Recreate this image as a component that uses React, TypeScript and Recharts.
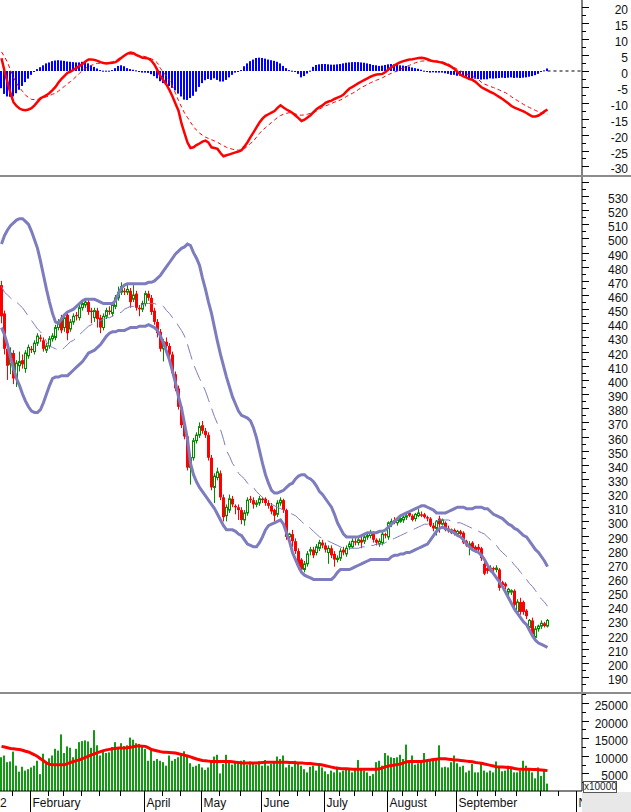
import React from "react";
import { ComposedChart, Bar, Line, XAxis, YAxis, ReferenceLine } from "recharts";

const W = 631;
const AXIS_W = 49;
const AXIS_X = W - AXIS_W;
const SLOTS = 194;
const FONT = '"Liberation Sans", Arial, sans-serif';

const RED = "#ff0000";
const GREEN = "#008c00";
const VOL_GREEN = "#129a12";
const BAND = "#7c7cbf";
const BLUE = "#0000ff";

// candles, one per trading day
const open = [
  467, 447, 422, 411, 419, 401, 410, 414, 408, 417,
  422, 420, 426, 430, 428, 421, 424, 429, 430, 437,
  444, 437, 446, 436, 441, 446, 444, 451, 453, 455,
  449, 444, 449, 444, 437, 445, 449, 447, 452, 458,
  462, 463, 462, 463, 457, 461, 451, 450, 454, 461,
  458, 449, 441, 434, 422, 427, 424, 418, 404, 394,
  381, 368, 360, 338, 345, 357, 361, 368, 364, 361,
  345, 324, 331, 334, 317, 304, 308, 316, 311, 310,
  308, 301, 306, 316, 315, 312, 313, 316, 316, 313,
  311, 308, 305, 313, 315, 308, 289, 291, 286, 279,
  273, 266, 270, 279, 280, 278, 281, 285, 283, 278,
  281, 277, 273, 274, 280, 277, 282, 282, 286, 285,
  287, 286, 289, 290, 292, 287, 284, 285, 291, 289,
  298, 301, 299, 300, 301, 303, 306, 304, 302, 304,
  305, 305, 303, 302, 297, 295, 302, 298, 299, 295,
  292, 294, 291, 293, 292, 286, 282, 285, 282, 282,
  281, 270, 267, 265, 267, 266, 266, 257, 256, 250,
  250, 251, 236, 243, 243, 237, 225, 230, 218, 224,
  226, 228, 226,
];
const high = [
  470, 449, 423, 423, 421, 414, 420, 418, 421, 425,
  424, 428, 433, 432, 430, 426, 431, 433, 439, 443,
  446, 446, 448, 443, 447, 448, 453, 456, 457, 457,
  451, 451, 451, 446, 447, 451, 452, 455, 460, 466,
  469, 465, 467, 465, 467, 463, 453, 456, 463, 463,
  460, 451, 443, 436, 429, 430, 426, 420, 406, 396,
  383, 370, 361, 347, 359, 363, 370, 371, 366, 363,
  347, 334, 338, 336, 319, 312, 319, 318, 312, 312,
  310, 308, 317, 318, 317, 315, 318, 317, 317, 315,
  313, 309, 315, 317, 316, 309, 292, 294, 288, 281,
  274, 272, 279, 282, 282, 284, 287, 287, 285, 283,
  283, 279, 276, 281, 282, 283, 286, 288, 288, 289,
  290, 291, 292, 294, 293, 288, 288, 293, 292, 300,
  302, 303, 302, 303, 304, 306, 308, 305, 306, 309,
  307, 306, 304, 303, 299, 301, 304, 302, 300, 297,
  295, 295, 294, 294, 293, 287, 286, 286, 283, 284,
  282, 272, 269, 269, 268, 269, 267, 258, 257, 253,
  252, 252, 245, 246, 244, 238, 231, 232, 226, 227,
  230, 229, 231,
];
const low = [
  440, 418, 400, 404, 397, 395, 406, 408, 405, 415,
  419, 418, 424, 427, 420, 419, 422, 427, 428, 435,
  433, 434, 428, 434, 439, 442, 442, 449, 451, 446,
  440, 441, 437, 433, 435, 443, 446, 445, 450, 456,
  460, 460, 460, 451, 455, 449, 445, 448, 452, 456,
  446, 439, 430, 420, 413, 422, 416, 403, 392, 379,
  366, 358, 336, 326, 343, 355, 359, 362, 359, 343,
  322, 313, 329, 315, 300, 300, 306, 310, 305, 301,
  298, 297, 304, 313, 309, 310, 311, 313, 311, 309,
  305, 300, 303, 311, 306, 287, 286, 282, 277, 266,
  264, 264, 268, 276, 274, 276, 279, 281, 278, 270,
  274, 268, 271, 272, 276, 275, 280, 281, 283, 283,
  281, 284, 287, 288, 285, 283, 282, 283, 288, 287,
  296, 298, 297, 299, 299, 301, 303, 300, 300, 303,
  303, 302, 300, 296, 293, 290, 292, 297, 293, 292,
  291, 290, 290, 290, 284, 282, 276, 280, 278, 278,
  272, 262, 263, 264, 264, 264, 251, 253, 252, 248,
  248, 239, 234, 234, 234, 231, 223, 218, 216, 222,
  224, 225, 225,
];
const close = [
  445, 422, 410, 419, 401, 412, 413, 411, 419, 423,
  421, 426, 431, 429, 422, 424, 429, 431, 437, 441,
  435, 444, 433, 441, 445, 445, 451, 454, 455, 448,
  448, 449, 443, 437, 445, 449, 448, 453, 458, 462,
  466, 462, 464, 455, 460, 451, 450, 454, 461, 458,
  448, 441, 433, 422, 427, 424, 418, 405, 394, 381,
  368, 360, 338, 345, 357, 361, 367, 364, 361, 345,
  324, 332, 335, 317, 303, 310, 316, 312, 310, 308,
  301, 306, 315, 315, 312, 313, 316, 315, 313, 311,
  307, 304, 313, 315, 308, 289, 291, 286, 279, 268,
  266, 270, 277, 280, 276, 282, 285, 283, 280, 281,
  276, 273, 274, 279, 278, 281, 284, 286, 285, 287,
  285, 289, 290, 292, 287, 285, 286, 291, 290, 299,
  300, 299, 301, 302, 303, 304, 304, 301, 305, 306,
  304, 303, 302, 297, 295, 300, 298, 301, 294, 293,
  294, 291, 293, 291, 285, 283, 284, 281, 279, 280,
  274, 263, 265, 267, 266, 267, 253, 255, 254, 252,
  251, 241, 243, 236, 236, 233, 230, 220, 224, 226,
  228, 226, 230,
];

// bollinger bands
const upper = [
  496, 502, 506, 509, 511, 513, 514, 514, 512, 510,
  505, 499, 493, 484, 474, 464, 455, 447, 441, 440,
  443, 446, 448, 449, 450, 452, 454, 456, 457, 457,
  457, 457, 456, 455, 454, 454, 454, 454, 456, 461,
  465, 467, 468, 468, 468, 468, 468, 468, 468, 469,
  469, 470, 472, 474, 477, 480, 483, 486, 489, 491,
  493, 494, 496, 495, 490, 486, 481, 472, 464, 455,
  447, 437, 427, 418, 410, 402, 395, 388, 383, 378,
  375, 374, 373, 371, 366, 359, 350, 341, 333, 327,
  322, 320, 320, 321, 322, 324, 326, 327, 330, 332,
  333, 333, 331, 330, 328, 325, 321, 319, 316, 313,
  310, 305, 299, 295, 291, 289, 289, 289, 289, 289,
  290, 291, 292, 292, 292, 292, 293, 293, 294, 296,
  298, 300, 302, 304, 305, 306, 307, 308, 309, 310,
  311, 311, 310, 309, 308, 306, 306, 306, 306, 307,
  308, 309, 310, 310, 310, 309, 309, 309, 310, 310,
  310, 309, 309, 307, 305, 304, 303, 302, 300, 298,
  297, 295, 294, 292, 290, 289, 286, 283, 280, 278,
  275, 272, 268,
];
const mid = [
  466, 462, 460, 458, 456, 455, 453, 451, 448, 445,
  442, 439, 436, 434, 431, 427, 424, 423, 422, 421,
  421, 423, 425, 427, 428, 430, 432, 434, 436, 438,
  439, 440, 441, 442, 443, 444, 444, 445, 446, 447,
  448, 450, 451, 452, 452, 453, 453, 453, 454, 454,
  454, 454, 453, 453, 452, 449, 447, 444, 442, 438,
  435, 431, 425, 418, 411, 406, 401, 397, 392, 386,
  380, 374, 369, 365, 358, 350, 346, 341, 338, 334,
  332, 330, 327, 325, 324, 321, 319, 317, 315, 314,
  312, 311, 310, 309, 308, 307, 306, 305, 304, 302,
  300, 298, 297, 295, 293, 291, 289, 288, 287, 286,
  285, 284, 283, 282, 281, 281, 281, 281, 281, 281,
  282, 282, 283, 283, 283, 284, 284, 284, 285, 286,
  287, 288, 289, 290, 291, 292, 293, 294, 295, 296,
  297, 298, 298, 299, 300, 300, 301, 301, 301, 301,
  300, 300, 299, 299, 298, 297, 296, 295, 294, 293,
  292, 291, 289, 287, 285, 283, 280, 278, 276, 274,
  272, 269, 267, 264, 262, 259, 256, 254, 251, 248,
  245, 243, 240,
];
const lower = [
  437, 432, 425, 416, 408, 401, 396, 390, 385, 381,
  378, 377, 377, 379, 384, 390, 396, 401, 402, 402,
  403, 403, 403, 405, 407, 409, 411, 413, 416, 419,
  420, 421, 423, 425, 428, 431, 433, 434, 434, 435,
  435, 435, 436, 437, 437, 437, 438, 438, 438, 439,
  438, 437, 435, 431, 426, 420, 414, 406, 398, 388,
  380, 369, 358, 341, 333, 328, 324, 321, 318, 315,
  312, 309, 305, 301, 297, 294, 294, 294, 293, 291,
  290, 287, 284, 283, 282, 282, 285, 289, 294, 297,
  298, 299, 300, 301, 298, 292, 286, 278, 273, 268,
  264, 262, 261, 260, 259, 259, 259, 259, 259, 259,
  259, 261, 264, 266, 266, 266, 266, 267, 268, 269,
  270, 271, 272, 273, 273, 273, 273, 273, 273, 273,
  275, 276, 276, 277, 277, 278, 278, 279, 280, 281,
  282, 283, 284, 287, 290, 293, 295, 296, 295, 294,
  293, 292, 290, 289, 287, 284, 282, 280, 279, 278,
  276, 273, 269, 266, 263, 260, 257, 254, 250, 246,
  242, 238, 235, 232, 229, 227, 223, 219, 216, 214,
  213, 212, 211,
];

// macd
const dif = [
  4, 0, -3.5, -7, -9.8, -11, -11.8, -12.2, -12.3, -12.1,
  -11.7, -10.8, -9.7, -8.6, -8.1, -7.6, -6.9, -6, -5, -3.6,
  -2.5, -1.5, -0.6, -0.2, 0.4, 1, 1.6, 2.2, 3, 3.6,
  3.6, 3.5, 3.2, 2.8, 2.5, 2.4, 2.5, 2.6, 2.8, 3.4,
  4.2, 4.9, 5.5, 5.8, 5.6, 5, 4.6, 4.2, 4.1, 3.9,
  3.2, 2, 0.2, -1.6, -3, -4.3, -6, -8, -10.3, -12.5,
  -16.5, -19.5, -22.5, -24.2, -24, -23.3, -22.8, -22.2, -21.9, -22.5,
  -24, -24.2, -24.5, -25.8, -26.8, -26.5, -26.2, -25.9, -25.6, -25.3,
  -24.9, -23.7, -22.4, -20.8, -19.3, -17.7, -16.2, -15, -14.1, -13.6,
  -13.1, -12.6, -11.6, -10.8, -11.5, -12.1, -12.6, -13.2, -14, -14.8,
  -15.7, -15.3, -14.6, -13.9, -12.9, -12, -11.3, -10.8, -10, -9.6,
  -9.3, -8.8, -8.4, -8, -7.4, -6.4, -5.5, -5, -4.4, -3.8,
  -3.3, -2.8, -2.3, -1.8, -1.4, -1.1, -1, -0.9, -0.3, 0.5,
  1.2, 1.8, 2.3, 2.8, 3.1, 3.4, 3.6, 3.7, 3.9, 4.1,
  4.2, 4, 3.7, 3.3, 3.1, 3, 2.8, 2.6, 2.2, 1.8,
  1.3, 0.6, -0.3, -1.2, -1.7, -2.1, -2.5, -2.8, -3.4, -4.3,
  -5.1, -5.6, -6.1, -6.6, -7, -7.6, -8.2, -8.8, -9.5, -10.2,
  -11, -11.5, -11.9, -12.3, -12.7, -13.2, -13.8, -14.3, -14.3, -14,
  -13.4, -12.7, -12.1,
];
const dea = [
  6, 4.5, 2.7, 0.3, -2, -3.8, -5.2, -6.4, -7.6, -8.3,
  -8.9, -9, -8.9, -8.8, -8.4, -8.1, -7.8, -7.3, -7, -6.3,
  -5.5, -4.8, -4, -3.3, -2.5, -1.6, -0.7, 0.2, 0.9, 1.3,
  1.8, 2.2, 2.4, 2.5, 2.5, 2.6, 2.7, 2.9, 3.3, 3.9,
  4.4, 4.8, 5.1, 5.3, 5.3, 5.1, 4.9, 4.7, 4.5, 4.2,
  3.8, 3.4, 2.5, 0.8, -0.5, -1.6, -3, -4.8, -7, -9.3,
  -11.3, -13.2, -14.6, -16.1, -17.5, -18.6, -19.5, -20.2, -20.8, -21.2,
  -21.6, -22, -22.4, -23, -23.5, -24, -24.3, -24.6, -24.8, -24.9,
  -24.9, -24.4, -23.6, -22.8, -22, -20.8, -19.6, -18.6, -17.8, -17,
  -16.2, -15.4, -14.6, -14, -13.6, -13.3, -13.1, -13.2, -13.5, -13.8,
  -13.9, -13.8, -13.6, -13.3, -13.1, -12.6, -12, -11.4, -11, -10.6,
  -10.2, -9.8, -9.5, -9.1, -8.6, -8, -7.5, -7, -6.5, -5.8,
  -5.2, -4.7, -4.2, -3.7, -3.3, -2.9, -2.5, -2.1, -1.6, -1.1,
  -0.7, -0.3, 0, 0.6, 1, 1.4, 1.8, 2.2, 2.6, 2.9,
  3.1, 3.2, 3.2, 3.2, 3.2, 3.1, 3, 2.8, 2.6, 2.2,
  1.6, 1.1, 0.5, 0, -0.4, -0.9, -1.3, -1.7, -2.2, -2.7,
  -3.6, -4.1, -4.5, -4.9, -5.2, -5.6, -6, -6.5, -6.8, -7.4,
  -8.1, -8.8, -9.3, -9.9, -10.5, -11, -11.5, -11.9, -12.4, -12.8,
  -13.2, -13.4, -13.6,
];
const hist = [
  -5.4, -7.2, -8, -8.1, -8, -7, -5.9, -4.7, -3.5, -2.4,
  -1.2, -0.2, 0.6, 1.2, 1.8, 2.4, 2.7, 3.1, 3.3, 3.4,
  3.3, 3.2, 3, 2.9, 2.8, 2.7, 2.7, 2.9, 2.8, 2.4,
  1.8, 1.3, 0.8, 0.3, 0.1, 0.1, 0.1, 0.3, 0.9, 1.6,
  1.8, 1.5, 0.9, 0.6, 0.4, 0.2, -0.2, -0.5, -0.5, -0.6,
  -1, -1.6, -2.3, -3.2, -3.8, -4.1, -4.7, -5.3, -6.1, -7.1,
  -8, -9, -9.1, -8.5, -7.8, -6.5, -5, -3.8, -2.9, -2.5,
  -2.8, -2.3, -2.8, -3.3, -3.3, -2.8, -2, -1.2, -0.5, -0.2,
  0.3, 1.5, 2.4, 3.1, 3.6, 4.1, 4.2, 4.1, 3.9, 3.6,
  3.4, 3.2, 2.9, 2.4, 1.6, 0.9, 0.3, 0.1, -0.2, -0.9,
  -2, -1.6, -0.8, 0.1, 1.3, 1.9, 2.1, 2.2, 2.2, 2.1,
  2, 2, 2.1, 2.2, 2.4, 2.6, 2.7, 2.8, 2.8, 2.8,
  2.7, 2.6, 2.4, 2.2, 1.9, 1.8, 1.6, 1.7, 1.9, 2.1,
  2.2, 2.1, 1.9, 1.8, 1.7, 1.6, 1.4, 1.1, 0.9, 0.7,
  0.4, 0.1, -0.2, -0.5, -0.4, -0.5, -0.5, -0.5, -0.7, -0.9,
  -1.2, -1.2, -1.5, -1.5, -1.7, -1.9, -2.2, -2.4, -2.4, -2.5,
  -2.7, -2.6, -2.6, -2.3, -2.4, -2.3, -2.2, -2.1, -2.2, -2.1,
  -2, -2.2, -2.1, -2.2, -2.1, -2, -1.8, -1.6, -1.3, -0.9,
  -0.3, 0.2, 0.8,
];

// volume
const volume = [
  9600, 10100, 8200, 8400, 11200, 7200, 5500, 6900, 5800, 6200,
  6700, 7200, 8600, 4800, 10600, 8200, 9300, 10100, 12000, 11500,
  16100, 10800, 12700, 12300, 9600, 12000, 13900, 14200, 14400, 14100,
  12300, 17300, 13000, 10100, 11500, 10800, 11000, 12500, 13900, 12500,
  13600, 12800, 13000, 15200, 14600, 13600, 13400, 12700, 12000, 8600,
  12000, 8600, 9100, 8600, 8200, 7200, 10100, 8600, 9100, 9600,
  10300, 11300, 9800, 7900, 6900, 7200, 7700, 6700, 6000, 6700,
  8200, 9800, 10300, 5000, 7700, 10300, 8600, 7500, 8200, 7900,
  8600, 8800, 7500, 8400, 7700, 7500, 8400, 7200, 8800, 7200,
  7700, 8200, 9800, 9100, 10100, 6700, 7500, 6900, 8600, 8200,
  7200, 6200, 5300, 6900, 7200, 5800, 7700, 6700, 5600, 4800,
  5800, 5300, 6900, 5300, 5800, 6000, 6200, 5300, 6000, 8800,
  6000, 5800, 5300, 4300, 4800, 8200, 8600, 7200, 10800, 10100,
  9600, 9400, 9600, 10300, 9100, 13200, 8600, 10100, 7500, 7900,
  8600, 10800, 8400, 9100, 8600, 8800, 13000, 6700, 6900, 6700,
  8200, 10100, 7900, 6900, 7200, 5300, 5800, 7700, 5300, 5300,
  8200, 5800, 5300, 5800, 5300, 8400, 6700, 5600, 5800, 7200,
  6700, 5300, 5300, 5800, 8600, 7200, 6000, 5300, 3600, 6700,
  4300, 5800, 2100,
];
const volMa = [
  12700, 12500, 12300, 12100, 12000, 11900, 11800, 11600, 11300, 11100,
  10700, 10300, 9800, 9200, 8600, 7950, 7600, 7500, 7500, 7500,
  7500, 7500, 7800, 8100, 8400, 8650, 8900, 9200, 9550, 9900,
  10300, 10600, 10900, 11200, 11500, 11700, 11850, 12000, 12100, 12200,
  12200, 12250, 12300, 12450, 12600, 12800, 12800, 12750, 12700, 12300,
  11800, 11600, 11400, 11200, 11050, 11000, 10950, 10900, 10800, 10600,
  10400, 10200, 9950, 9700, 9400, 9100, 8900, 8700, 8600, 8500,
  8400, 8400, 8400, 8400, 8400, 8400, 8400, 8300, 8200, 8100,
  8000, 8000, 8000, 8000, 8000, 8000, 8050, 8100, 8150, 8200,
  8200, 8200, 8200, 8200, 8150, 8150, 8100, 8100, 8050, 8000,
  8000, 7900, 7850, 7800, 7700, 7600, 7550, 7400, 7200, 7000,
  6800, 6600, 6500, 6400, 6350, 6300, 6250, 6200, 6200, 6200,
  6200, 6200, 6200, 6200, 6200, 6200, 6300, 6600, 6900, 7100,
  7250, 7400, 7550, 7700, 8000, 8300, 8400, 8400, 8400, 8400,
  8400, 8550, 8700, 8800, 8950, 9050, 9150, 9200, 9150, 9050,
  8950, 8850, 8800, 8700, 8600, 8500, 8400, 8300, 8100, 8000,
  7900, 7700, 7500, 7300, 7100, 6900, 6850, 6800, 6750, 6700,
  6600, 6400, 6250, 6200, 6200, 6200, 6200, 6150, 6100, 6050,
  6000, 5900, 5800,
];

// time axis
const monthTicks = [
  { i: 0, label: "2", edge: true },
  { i: 10, label: "February" },
  { i: 48, label: "April" },
  { i: 67, label: "May" },
  { i: 87, label: "June" },
  { i: 108, label: "July" },
  { i: 129, label: "August" },
  { i: 152, label: "September" },
  { i: 192, label: "N" },
];
const weekTicks = [4, 16, 21, 27, 33, 40, 54, 60, 73, 80, 93, 99, 103, 113, 118, 124, 134, 139, 145, 159, 165, 172, 180, 186];

const macdLabels = [-30, -25, -20, -15, -10, -5, 0, 5, 10, 15, 20];
const priceLabels = [
  190, 200, 210, 220, 230, 240, 250, 260, 270, 280, 290, 300, 310, 320, 330, 340, 350, 360,
  370, 380, 390, 400, 410, 420, 430, 440, 450, 460, 470, 480, 490, 500, 510, 520, 530,
];
const volLabels = [5000, 10000, 15000, 20000, 25000];

const macdTicks = [...macdLabels.map((v) => v - 2.5), ...macdLabels, 22.5].filter((v) => v >= -32);
const priceTicks = [...priceLabels.map((v) => v - 5), ...priceLabels, 535, 540];
const volTicks = [...volLabels.map((v) => v - 2500), ...volLabels, 27500];

const rows = Array.from({ length: SLOTS }, (_, i) => ({
  i,
  open: open[i] ?? null,
  high: high[i] ?? null,
  low: low[i] ?? null,
  close: close[i] ?? null,
  upper: upper[i] ?? null,
  mid: mid[i] ?? null,
  lower: lower[i] ?? null,
  dif: dif[i] ?? null,
  dea: dea[i] ?? null,
  hist: hist[i] ?? null,
  vol: volume[i] ?? null,
  volMa: volMa[i] ?? null,
}));

function Candle(props: any) {
  const { x, y, width, height, payload } = props;
  if (payload == null || payload.open == null) return null;
  const { open: o, close: c, high: h, low: l } = payload;
  const top = Math.min(y, y + height);
  const span = Math.abs(height);
  const k = h === l ? 0 : span / (h - l);
  const py = (v: number) => top + (h - v) * k;
  const cx = Math.floor(x + width / 2) + 0.5;
  const bt = py(Math.max(o, c));
  const bb = py(Math.min(o, c));
  if (c < o) {
    return (
      <g>
        <line x1={cx} x2={cx} y1={py(h)} y2={py(l)} stroke={RED} strokeWidth={1} />
        <rect x={cx - 1.5} y={bt} width={3} height={Math.max(bb - bt, 1)} fill={RED} />
      </g>
    );
  }
  return (
    <g>
      <line x1={cx} x2={cx} y1={py(h)} y2={bt} stroke={GREEN} strokeWidth={1} />
      <line x1={cx} x2={cx} y1={bb} y2={py(l)} stroke={GREEN} strokeWidth={1} />
      <rect x={cx - 1} y={bt} width={2} height={Math.max(bb - bt, 0.5)} fill="#fff" stroke={GREEN} strokeWidth={1} />
    </g>
  );
}

const thinBar = (color: string) => (props: any) => {
  const { x, y, width, height } = props;
  if (height == null || isNaN(height)) return null;
  const top = Math.min(y, y + height);
  const h = Math.max(Math.abs(height), 1);
  const left = Math.floor(x + width / 2) - 1;
  return <rect x={left} y={top} width={2} height={h} fill={color} />;
};

const makeYTick = (labels: number[], majorStep: number) => {
  const set = new Set(labels);
  return (props: any) => {
    const { y, payload } = props;
    const v = payload.value;
    const yy = Math.round(y) + 0.5;
    const major = Math.abs(v / majorStep - Math.round(v / majorStep)) < 1e-6;
    return (
      <g>
        <line x1={AXIS_X} x2={AXIS_X + (major ? 7 : 4)} y1={yy} y2={yy} stroke="#000" />
        {set.has(v) ? (
          <text x={628} y={yy + 2} textAnchor="end" dominantBaseline="central" fontSize={12} fontFamily={FONT} fill="#111">
            {v}
          </text>
        ) : null}
      </g>
    );
  };
};

const VOL_PLOT_H = 97;
const monthMap = new Map(monthTicks.map((m) => [m.i, m]));
const weekSet = new Set(weekTicks);

function TimeTick(props: any) {
  const { x, payload } = props;
  const idx = payload.value;
  const left = Math.round(x - 1.5) + 0.5;
  const m: any = monthMap.get(idx);
  if (m) {
    if (m.edge) {
      return (
        <text x={0} y={VOL_PLOT_H + 16} fontSize={12} fontFamily={FONT} fill="#111">
          {m.label}
        </text>
      );
    }
    return (
      <g>
        <line x1={left} x2={left} y1={VOL_PLOT_H} y2={VOL_PLOT_H + 21} stroke="#000" />
        <text x={left + 2} y={VOL_PLOT_H + 16} fontSize={12} fontFamily={FONT} fill="#111">
          {m.label}
        </text>
      </g>
    );
  }
  if (weekSet.has(idx)) {
    return <line x1={left} x2={left} y1={VOL_PLOT_H} y2={VOL_PLOT_H + 5} stroke="#000" />;
  }
  return <g />;
}

const margin = { top: 0, right: 0, bottom: 0, left: 0 };

export default function App() {
  return (
    <div style={{ position: "absolute", left: 0, top: 0, width: W, height: 812, background: "#fff", overflow: "hidden" }}>
      <div style={{ position: "absolute", left: 0, top: 0 }}>
        <ComposedChart width={W} height={175} data={rows} margin={margin} barCategoryGap={0}>
          <XAxis dataKey="i" hide />
          <YAxis
            orientation="right"
            width={AXIS_W}
            type="number"
            domain={[-32.7, 22.33]}
            allowDataOverflow
            ticks={macdTicks}
            interval={0}
            tickLine={false}
            axisLine={{ stroke: "#000" }}
            tick={makeYTick(macdLabels, 5)}
          />
          <ReferenceLine segment={[{ x: 182, y: 0 }, { x: 193, y: 0 }]} stroke="#000" strokeDasharray="3 3" />
          <Bar dataKey="hist" shape={thinBar(BLUE)} isAnimationActive={false} />
          <Line type="linear" dataKey="dea" stroke={RED} strokeWidth={1} strokeDasharray="4 3" dot={false} activeDot={false} isAnimationActive={false} />
          <Line type="linear" dataKey="dif" stroke={RED} strokeWidth={2.5} dot={false} activeDot={false} isAnimationActive={false} />
        </ComposedChart>
      </div>
      <div style={{ position: "absolute", left: 0, top: 175, width: W, height: 2, background: "#8c8c8c" }} />
      <div style={{ position: "absolute", left: 0, top: 177 }}>
        <ComposedChart width={W} height={515} data={rows} margin={margin} barCategoryGap={0}>
          <XAxis dataKey="i" hide />
          <YAxis
            orientation="right"
            width={AXIS_W}
            type="number"
            domain={[179.4, 543.43]}
            allowDataOverflow
            ticks={priceTicks}
            interval={0}
            tickLine={false}
            axisLine={{ stroke: "#000" }}
            tick={makeYTick(priceLabels, 10)}
          />
          <Bar dataKey={(d: any) => (d.low == null ? null : [d.low, d.high])} shape={Candle} isAnimationActive={false} />
          <Line type="linear" dataKey="mid" stroke={BAND} strokeWidth={1} strokeDasharray="16 7" dot={false} activeDot={false} isAnimationActive={false} />
          <Line type="linear" dataKey="upper" stroke={BAND} strokeWidth={3} dot={false} activeDot={false} isAnimationActive={false} />
          <Line type="linear" dataKey="lower" stroke={BAND} strokeWidth={3} dot={false} activeDot={false} isAnimationActive={false} />
        </ComposedChart>
      </div>
      <div style={{ position: "absolute", left: 0, top: 692, width: W, height: 2, background: "#8c8c8c" }} />
      <div style={{ position: "absolute", left: 0, top: 694 }}>
        <ComposedChart width={W} height={118} data={rows} margin={margin} barCategoryGap={0}>
          <XAxis
            dataKey="i"
            height={21}
            interval={0}
            tickLine={false}
            axisLine={{ stroke: "#000" }}
            tick={TimeTick}
          />
          <YAxis
            orientation="right"
            width={AXIS_W}
            type="number"
            domain={[0, 27600]}
            allowDataOverflow
            ticks={volTicks}
            interval={0}
            tickLine={false}
            axisLine={{ stroke: "#000" }}
            tick={makeYTick(volLabels, 5000)}
          />
          <Bar dataKey="vol" shape={thinBar(VOL_GREEN)} isAnimationActive={false} />
          <Line type="linear" dataKey="volMa" stroke={RED} strokeWidth={3} dot={false} activeDot={false} isAnimationActive={false} />
        </ComposedChart>
      </div>
      <div style={{ position: "absolute", left: AXIS_X, top: 792, width: AXIS_W, height: 20, background: "#e8e8e8" }} />
      <div
        style={{
          position: "absolute",
          left: AXIS_X + 1,
          top: 781,
          width: 34,
          height: 12,
          border: "1px solid #555",
          boxSizing: "border-box",
          background: "#fff",
          fontFamily: FONT,
          fontSize: 10,
          lineHeight: "10px",
          color: "#222",
          textAlign: "center",
        }}
      >
        x10000
      </div>
    </div>
  );
}
